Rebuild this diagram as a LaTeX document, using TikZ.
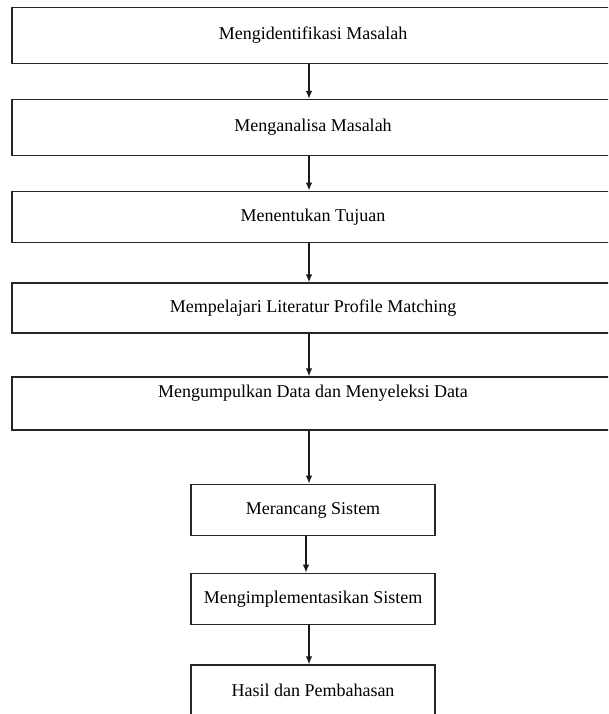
\documentclass[tikz,border=0pt]{standalone}
\usepackage{fontspec}
\setmainfont{Liberation Serif}
\usetikzlibrary{arrows.meta}
\tikzset{
    stepbox/.style={draw=black!85, line width=1.3pt, rectangle, inner sep=0pt, font=\fontsize{18}{20}\selectfont},
    widebox/.style={stepbox, minimum width=602},
    smallbox/.style={stepbox, minimum width=244},
    flow/.style={-{Latex[length=8pt,width=6.5pt]}, line width=1.3pt, black!90}
}
\begin{document}
\begin{tikzpicture}[x=1pt,y=-1pt]
        \useasboundingbox (0,0) rectangle (608,714);
        \clip (0,0) rectangle (608,714);
        \fill[white] (0,0) rectangle (608,714);

        \node[widebox, minimum height=56] (box1) at (313,35.5) {Mengidentifikasi Masalah};
        \node[widebox, minimum height=56] (box2) at (313,127.5) {Menganalisa Masalah};
        \node[widebox, minimum height=51.5] (box3) at (313,217) {Menentukan Tujuan};
        \node[widebox, minimum height=50] (box4) at (313,308) {Mempelajari Literatur Profile Matching};
        \node[widebox, minimum height=53, text depth=25pt] (box5) at (313,403.5) {Mengumpulkan Data dan Menyeleksi Data};
        \node[smallbox, minimum height=51.5] (box6) at (313,510) {Merancang Sistem};
        \node[smallbox, minimum height=51.5] (box7) at (313,599) {Mengimplementasikan Sistem};
        \node[smallbox, minimum height=51] (box8) at (313,690.5) {Hasil dan Pembahasan};

        \coordinate (ax) at (309,0);
        \coordinate (bx) at (306,0);

        \draw[flow] (box1.south -| ax) -- (box2.north -| ax);
        \draw[flow] (box2.south -| ax) -- (box3.north -| ax);
        \draw[flow] (box3.south -| ax) -- (box4.north -| ax);
        \draw[flow] (box4.south -| ax) -- (box5.north -| ax);
        \draw[flow] (box5.south -| ax) -- (box6.north -| ax);
        \draw[flow] (box6.south -| bx) -- (box7.north -| bx);
        \draw[flow] (box7.south -| ax) -- (box8.north -| ax);
    \end{tikzpicture}
\end{document}
